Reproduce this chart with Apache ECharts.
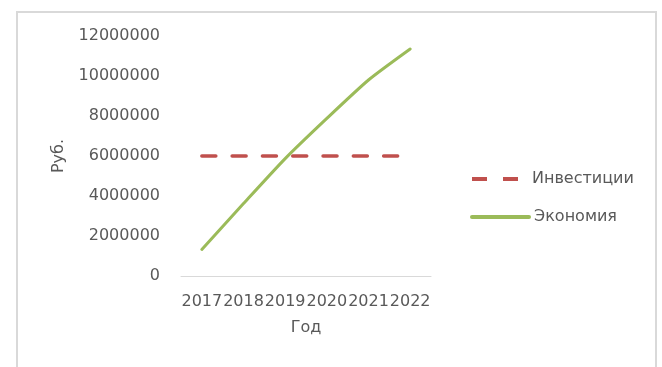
<!DOCTYPE html>
<html>
<head>
<meta charset="utf-8">
<script src="https://cdn.jsdelivr.net/npm/echarts@6/dist/echarts.min.js"></script>
<style>
html,body{margin:0;padding:0;background:#fff;}
#c{width:662px;height:367px;}
</style>
</head>
<body>
<div id="c"></div>
<script>
const years = ['2017', '2018', '2019', '2020', '2021', '2022'];
const investments = [6000000, 6000000, 6000000, 6000000, 6000000, 6000000];
const savings = [1330000, 3620000, 5870000, 7880000, 9800000, 11350000];
const seriesNames = ['Инвестиции', 'Экономия'];
const yTicks = { min: 0, max: 12000000, interval: 2000000 };

const font = 'DejaVu Sans';
const txt = '#595959';
const chart = echarts.init(document.getElementById('c'), null, { renderer: 'canvas' });
chart.setOption({
  animation: false,
  backgroundColor: '#fff',
  graphic: [{
    type: 'rect',
    shape: { x: 17, y: 12, width: 639, height: 380 },
    style: { fill: 'none', stroke: '#d9d9d9', lineWidth: 2 },
    silent: true
  }],
  grid: { left: 181, right: 231, top: 36, bottom: 91, containLabel: false },
  legend: [{
    data: [seriesNames[0]],
    left: 465, top: 166,
    itemWidth: 47, itemHeight: 18,
    itemStyle: { opacity: 0 },
    lineStyle: { width: 4, type: [15, 16], cap: 'butt' },
    textStyle: { fontFamily: font, fontSize: 16, color: txt, padding: [0, 0, 0, 8] }
  }, {
    data: [seriesNames[1]],
    left: 465, top: 204,
    itemWidth: 57, itemHeight: 18,
    itemStyle: { opacity: 0 },
    lineStyle: { width: 4, cap: 'round' },
    textStyle: { fontFamily: font, fontSize: 16, color: txt }
  }],
  xAxis: {
    type: 'category',
    data: years,
    boundaryGap: true,
    name: 'Год',
    nameLocation: 'middle',
    nameGap: 44,
    nameTextStyle: { fontFamily: font, fontSize: 16, color: txt },
    axisLine: { lineStyle: { color: '#d9d9d9', width: 1 } },
    axisTick: { show: false },
    axisLabel: { interval: 0, margin: 18, fontFamily: font, fontSize: 16, color: txt },
    splitLine: { show: false }
  },
  yAxis: {
    type: 'value',
    min: yTicks.min, max: yTicks.max, interval: yTicks.interval,
    name: 'Руб.',
    nameLocation: 'middle',
    nameGap: 114,
    nameTextStyle: { fontFamily: font, fontSize: 16, color: txt },
    axisLine: { show: false },
    axisTick: { show: false },
    splitLine: { show: false },
    axisLabel: { margin: 21, fontFamily: font, fontSize: 16, color: txt, formatter: v => String(v) }
  },
  series: [{
    name: seriesNames[0],
    type: 'line',
    data: investments,
    symbol: 'none',
    color: '#C0504D',
    lineStyle: { color: '#C0504D', width: 3.5, type: [14, 16.3], cap: 'round' }
  }, {
    name: seriesNames[1],
    type: 'line',
    data: savings,
    symbol: 'none',
    smooth: 0.2,
    color: '#9BBB59',
    lineStyle: { color: '#9BBB59', width: 3, cap: 'round' }
  }]
});
</script>
</body>
</html>
